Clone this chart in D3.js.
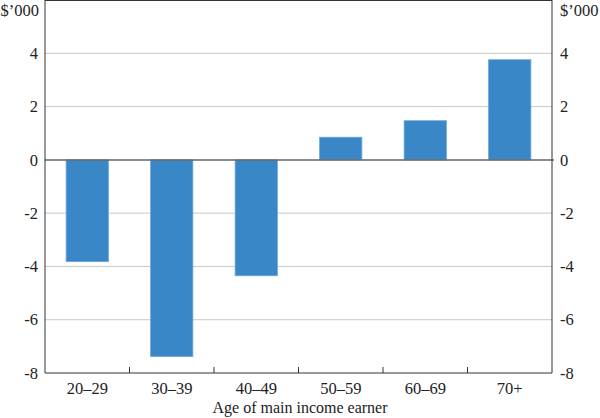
<!DOCTYPE html>
<html><head><meta charset="utf-8">
<script src="https://cdn.jsdelivr.net/npm/d3@7"></script>
<style>body{margin:0;background:#fff}svg{display:block}text{font-family:"Liberation Serif","Times New Roman",serif;fill:#222}</style>
</head><body>
<svg id="c" width="600" height="418"></svg>
<script>
const categories = ["20–29","30–39","40–49","50–59","60–69","70+"];
const values = [-3.82,-7.38,-4.35,0.85,1.47,3.76];
const yTicks = [-8,-6,-4,-2,0,2,4];
const unitLabel = "$’000";
const xTitle = "Age of main income earner";

const svg = d3.select("#c");
const L = 45, R = 552, B = 373;
const x = d3.scaleBand().domain(categories).range([L, R]).paddingInner(0.5).paddingOuter(0.25);
const y = d3.scaleLinear().domain([-8, 6]).range([B, B - 14 * 26.64]);

// gridlines
svg.append("g").selectAll("line").data(yTicks.filter(d => d !== 0 && d !== -8)).join("line")
  .attr("x1", L).attr("x2", R).attr("y1", d => y(d)).attr("y2", d => y(d))
  .attr("stroke", "#c8c8c8").attr("stroke-width", 1);

// bars
svg.append("g").selectAll("rect").data(values).join("rect")
  .attr("x", (d, i) => x(categories[i]))
  .attr("width", x.bandwidth())
  .attr("y", d => y(Math.max(0, d)))
  .attr("height", d => Math.abs(y(d) - y(0)))
  .attr("fill", "#3a87c8").attr("stroke", "#6aa6da").attr("stroke-width", 0.8);

// zero line
svg.append("line").attr("x1", L).attr("x2", R + 2).attr("y1", y(0)).attr("y2", y(0))
  .attr("stroke", "#666").attr("stroke-width", 1.5);

// frame
svg.append("line").attr("x1", L).attr("x2", L).attr("y1", 0).attr("y2", B).attr("stroke", "#333").attr("stroke-width", 1);
svg.append("line").attr("x1", R).attr("x2", R).attr("y1", 0).attr("y2", B).attr("stroke", "#333").attr("stroke-width", 1);
svg.append("line").attr("x1", L).attr("x2", R).attr("y1", B).attr("y2", B).attr("stroke", "#333").attr("stroke-width", 1);
svg.append("line").attr("x1", L).attr("x2", R).attr("y1", 0.5).attr("y2", 0.5).attr("stroke", "#333").attr("stroke-width", 1);

// x ticks between categories
const step = x.step();
svg.append("g").selectAll("line").data(categories.slice(1)).join("line")
  .attr("x1", d => x(d) - step * 0.25).attr("x2", d => x(d) - step * 0.25)
  .attr("y1", B).attr("y2", B - 6).attr("stroke", "#333");

// y tick labels
const fs = 16.5;
svg.append("g").selectAll("text").data(yTicks).join("text")
  .attr("x", 38).attr("y", d => y(d)).attr("dy", "0.35em").attr("text-anchor", "end")
  .attr("font-size", fs).text(d => d);
svg.append("g").selectAll("text").data(yTicks).join("text")
  .attr("x", 560).attr("y", d => y(d)).attr("dy", "0.35em").attr("text-anchor", "start")
  .attr("font-size", fs).text(d => d);
svg.append("text").attr("x", 39).attr("y", 15.5).attr("text-anchor", "end").attr("font-size", fs).text(unitLabel);
svg.append("text").attr("x", 560).attr("y", 15.5).attr("text-anchor", "start").attr("font-size", fs).text(unitLabel);

// x labels
svg.append("g").selectAll("text").data(categories).join("text")
  .attr("x", d => x(d) + x.bandwidth() / 2).attr("y", 394).attr("text-anchor", "middle")
  .attr("font-size", fs).text(d => d);
svg.append("text").attr("x", 300).attr("y", 413).attr("text-anchor", "middle").attr("font-size", 16).text(xTitle);
</script>
</body></html>
